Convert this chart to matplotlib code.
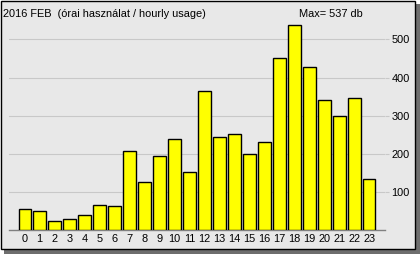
import matplotlib
matplotlib.use("Agg")
import matplotlib.pyplot as plt
from matplotlib.patches import Rectangle

hours = list(range(24))
usage = [55, 50, 24, 29, 40, 67, 64, 208, 126, 195, 240, 153,
         364, 243, 251, 201, 232, 450, 537, 427, 341, 299, 346, 134]
yticks = [100, 200, 300, 400, 500]
title = "2016 FEB  (órai használat / hourly usage)"
max_label = "Max= %d db" % max(usage)

plt.rcParams['font.family'] = ['Liberation Sans', 'DejaVu Sans']
FS = 7.9

W, H = 420, 254
fig = plt.figure(figsize=(W / 100, H / 100), dpi=100)
fig.patch.set_facecolor('white')

# shadow + frame
fig.patches.append(Rectangle((4 / W, 0), 416 / W, 250 / H, transform=fig.transFigure,
                             facecolor='#6e6e6e', edgecolor='none', zorder=0))
fig.patches.append(Rectangle((0.5 / W, 5 / H), 414.5 / W, 248.5 / H, transform=fig.transFigure,
                             facecolor='#e8e8e8', edgecolor='black', linewidth=1.0, zorder=1))

ax = fig.add_axes([9 / W, (H - 230.3) / H, 376 / W, 229.2 / H])
ax.set_zorder(5)
ax.set_facecolor('none')
ax.bar(hours, usage, width=0.83, color='#ffff00', edgecolor='black', linewidth=1.0, zorder=3)
ax.set_xlim(-1.05, 24.05)
ax.set_ylim(0, 600)

for v in yticks:
    ax.axhline(v, color='#c8c8c8', linewidth=0.8, zorder=1)
ax.yaxis.tick_right()
ax.set_yticks(yticks)
ax.tick_params(axis='y', length=3, color='#c8c8c8', width=0.8, pad=1.5, labelsize=FS)
ax.set_xticks(hours)
ax.set_xticklabels([str(h) for h in hours])
ax.tick_params(axis='x', length=0, pad=2.5, labelsize=FS)
for s in ['top', 'left', 'right']:
    ax.spines[s].set_visible(False)
ax.spines['bottom'].set_color('#808080')
ax.spines['bottom'].set_linewidth(1.0)

fig.text(3 / W, 1 - 14 / H, title, fontsize=FS, va='center', ha='left', zorder=6)
fig.text(331 / W, 1 - 14 / H, max_label, fontsize=FS, va='center', ha='center', zorder=6)

fig.savefig('out.png', dpi=100)
